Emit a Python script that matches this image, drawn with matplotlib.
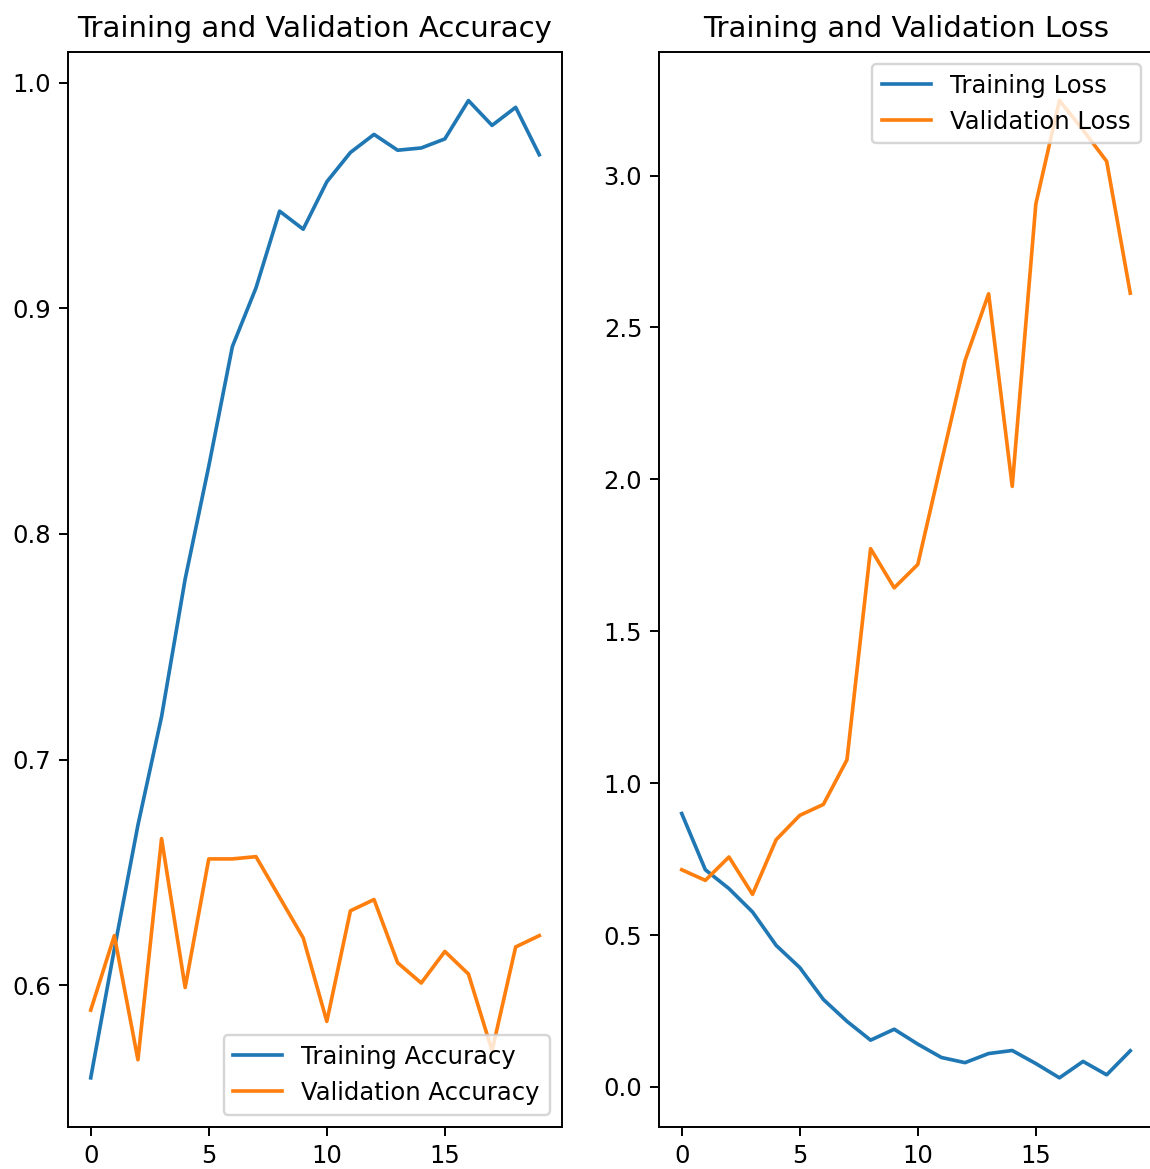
import matplotlib
matplotlib.use("Agg")
import matplotlib.pyplot as plt

epochs = list(range(20))

train_acc = [0.559, 0.616, 0.671, 0.719, 0.780, 0.830, 0.883, 0.909, 0.943, 0.935,
             0.956, 0.969, 0.977, 0.970, 0.971, 0.975, 0.992, 0.981, 0.989, 0.968]
val_acc = [0.589, 0.622, 0.567, 0.665, 0.599, 0.656, 0.656, 0.657, 0.639, 0.621,
           0.584, 0.633, 0.638, 0.610, 0.601, 0.615, 0.605, 0.571, 0.617, 0.622]

train_loss = [0.900, 0.715, 0.653, 0.576, 0.466, 0.393, 0.288, 0.216, 0.154, 0.190,
              0.141, 0.097, 0.080, 0.110, 0.120, 0.077, 0.030, 0.084, 0.040, 0.119]
val_loss = [0.715, 0.680, 0.757, 0.634, 0.814, 0.894, 0.930, 1.077, 1.772, 1.643,
            1.720, 2.057, 2.391, 2.611, 1.977, 2.907, 3.247, 3.150, 3.047, 2.613]

W, H = 1150, 1169
DPI = 175
fig = plt.figure(figsize=(W / DPI, H / DPI), dpi=DPI)

def rect(l, r, t, b):
    return [l / W, 1 - b / H, (r - l) / W, (b - t) / H]

ax1 = fig.add_axes(rect(68.3, 561.7, 51.7, 1126.7))
ax2 = fig.add_axes(rect(659.3, 1152.7, 51.7, 1126.7))

ax1.plot(epochs, train_acc, label='Training Accuracy')
ax1.plot(epochs, val_acc, label='Validation Accuracy')
ax1.legend(loc='lower right')
ax1.set_title('Training and Validation Accuracy')

ax2.plot(epochs, train_loss, label='Training Loss')
ax2.plot(epochs, val_loss, label='Validation Loss')
ax2.legend(loc='upper right')
ax2.set_title('Training and Validation Loss')

fig.savefig('out.png', dpi=DPI)
